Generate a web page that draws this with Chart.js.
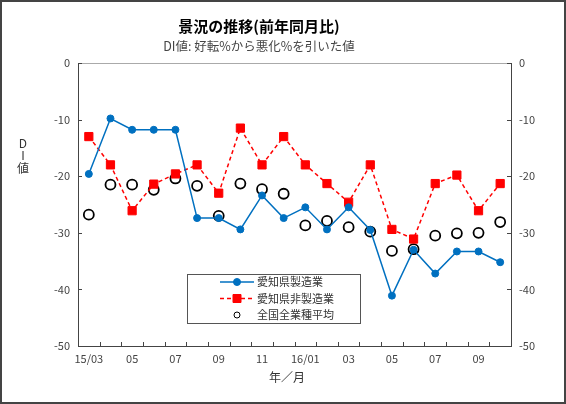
<!DOCTYPE html>
<html>
<head>
<meta charset="utf-8">
<script src="https://cdn.jsdelivr.net/npm/chart.js@4.4.0/dist/chart.umd.min.js"></script>
<style>
  html, body { margin: 0; padding: 0; background: #fff; }
  #wrap { width: 566px; height: 404px; position: relative; }
</style>
</head>
<body>
<div id="wrap"><canvas id="lineChart" width="566" height="404"></canvas></div>
<script>
// months 15/03 .. 16/10
const months = ['15/03', '04', '05', '06', '07', '08', '09', '10', '11', '12',
    '16/01', '02', '03', '04', '05', '06', '07', '08', '09', '10'];
const seriesNames = ['愛知県製造業', '愛知県非製造業', '全国全業種平均'];
const aichiMfg = [-19.6, -9.8, -11.8, -11.8, -11.8, -27.4, -27.4, -29.4, -23.4, -27.4,
    -25.5, -29.4, -25.5, -29.5, -41.1, -33.0, -37.2, -33.3, -33.3, -35.2];
const aichiNonMfg = [-13.0, -18.0, -26.1, -21.4, -19.6, -18.0, -23.0, -11.5, -18.0, -13.0,
    -18.0, -21.3, -24.6, -18.0, -29.4, -31.1, -21.3, -19.8, -26.1, -21.3];
const national = [-26.8, -21.5, -21.5, -22.4, -20.4, -21.7, -27.0, -21.3, -22.3, -23.1,
    -28.7, -27.9, -29.0, -29.8, -33.2, -32.9, -30.5, -30.1, -30.0, -28.1];
const yTicks = [0, -10, -20, -30, -40, -50];

const FONT = "'Noto Sans CJK JP', 'Noto Sans', sans-serif";

/**
 * Titles, frame, inward tick marks and the legend box.
 */
const decorations = {
    id: 'decorations',
    afterDraw(chart) {
        const ctx = chart.ctx;
        const area = chart.chartArea;
        const x = chart.scales.x;
        const y = chart.scales.y;
        ctx.save();

        // outer frame
        ctx.strokeStyle = '#444';
        ctx.lineWidth = 2;
        ctx.strokeRect(1, 1, chart.width - 2, chart.height - 2);

        // plot top border
        ctx.strokeStyle = '#aaa';
        ctx.lineWidth = 1;
        ctx.beginPath();
        ctx.moveTo(area.left, area.top + 0.5);
        ctx.lineTo(area.right, area.top + 0.5);
        ctx.stroke();

        // inward ticks
        ctx.strokeStyle = '#444';
        ctx.beginPath();
        const n = months.length;
        for (let i = 0; i <= n; i++) {
            const px = Math.round(x.left + i * x.width / n) + 0.5;
            ctx.moveTo(px, area.bottom);
            ctx.lineTo(px, area.bottom - 4);
        }
        yTicks.forEach(v => {
            const py = Math.round(y.getPixelForValue(v)) + 0.5;
            ctx.moveTo(area.left, py);
            ctx.lineTo(area.left + 4, py);
            ctx.moveTo(area.right, py);
            ctx.lineTo(area.right - 4, py);
        });
        ctx.stroke();

        // titles
        ctx.textAlign = 'center';
        ctx.textBaseline = 'middle';
        ctx.fillStyle = '#000';
        ctx.font = 'bold 15px ' + FONT;
        ctx.fillText('景況の推移(前年同月比)', 259, 26);
        ctx.fillStyle = '#444';
        ctx.font = '12.5px ' + FONT;
        ctx.fillText('DI値: 好転%から悪化%を引いた値', 259, 46);

        // axis titles
        ctx.fillStyle = '#333';
        ctx.font = '12px ' + FONT;
        ctx.fillText('D', 23, 143);
        ctx.fillText('I', 23, 155);
        ctx.fillText('値', 23, 168);
        ctx.fillText('年／月', 287, 377);

        // legend
        const lx = 187, ly = 274, lw = 173, lh = 49;
        ctx.fillStyle = '#fff';
        ctx.fillRect(lx, ly, lw, lh);
        ctx.strokeStyle = '#555';
        ctx.strokeRect(lx + 0.5, ly + 0.5, lw, lh);
        ctx.font = '11px ' + FONT;
        ctx.textAlign = 'left';
        chart.data.datasets.forEach((ds, i) => {
            const ry = 282 + i * 16.5;
            if (ds.showLine !== false) {
                ctx.strokeStyle = ds.borderColor;
                ctx.lineWidth = ds.borderWidth;
                ctx.setLineDash(ds.borderDash || []);
                ctx.beginPath();
                ctx.moveTo(220, ry);
                ctx.lineTo(254, ry);
                ctx.stroke();
                ctx.setLineDash([]);
            }
            ctx.fillStyle = ds.pointBackgroundColor;
            ctx.strokeStyle = ds.pointBorderColor;
            ctx.lineWidth = 1;
            ctx.beginPath();
            if (ds.pointStyle === 'rect') {
                ctx.rect(233, ry - 4, 8, 8);
            } else {
                ctx.arc(237, ry, i === 2 ? 3 : 3.5, 0, Math.PI * 2);
            }
            ctx.fill();
            ctx.stroke();
            ctx.fillStyle = '#333';
            ctx.fillText(ds.label, 257, ry);
        });
        ctx.restore();
    }
};

function showLineChart() {
    const ctx = document.getElementById('lineChart');
    const yScale = (position, width) => ({
        position: position,
        min: -50,
        max: 0,
        grid: { display: false, drawTicks: false },
        border: { display: true, color: '#444', width: 1 },
        ticks: {
            stepSize: 10,
            padding: 8,
            color: '#444',
            font: { family: FONT, size: 11 }
        },
        afterFit(scale) { scale.width = width; }
    });

    new Chart(ctx, {
        type: 'line',
        data: {
            labels: months,
            datasets: [{
                label: seriesNames[0],
                data: aichiMfg,
                borderColor: '#0070C0',
                backgroundColor: '#0070C0',
                pointBackgroundColor: '#0070C0',
                pointBorderColor: '#0070C0',
                borderWidth: 1.5,
                pointStyle: 'circle',
                pointRadius: 3.5,
                pointBorderWidth: 1,
                tension: 0
            }, {
                label: seriesNames[1],
                data: aichiNonMfg,
                borderColor: '#FF0000',
                backgroundColor: '#FF0000',
                pointBackgroundColor: '#FF0000',
                pointBorderColor: '#FF0000',
                borderWidth: 1.5,
                borderDash: [4, 3],
                pointStyle: 'rect',
                pointRadius: 5.8,
                pointBorderWidth: 1,
                tension: 0
            }, {
                label: seriesNames[2],
                data: national,
                showLine: false,
                borderColor: '#000',
                backgroundColor: '#fff',
                pointBackgroundColor: '#fff',
                pointBorderColor: '#000',
                pointStyle: 'circle',
                pointRadius: 5,
                pointBorderWidth: 1.8
            }]
        },
        options: {
            responsive: false,
            animation: false,
            layout: { padding: { top: 63, left: 0, right: 0, bottom: 0 } },
            plugins: {
                legend: { display: false },
                tooltip: { enabled: false }
            },
            scales: {
                x: {
                    offset: true,
                    grid: { display: false, drawTicks: false, offset: true },
                    border: { display: true, color: '#444', width: 1 },
                    ticks: {
                        autoSkip: false,
                        maxRotation: 0,
                        padding: 6,
                        color: '#444',
                        font: { family: FONT, size: 11 },
                        callback: (value, index) => index % 2 === 0 ? months[index] : ''
                    },
                    afterFit(scale) { scale.height = 58; }
                },
                y: yScale('left', 78),
                y2: yScale('right', 55)
            }
        },
        plugins: [decorations]
    });
}

showLineChart();
</script>
</body>
</html>
